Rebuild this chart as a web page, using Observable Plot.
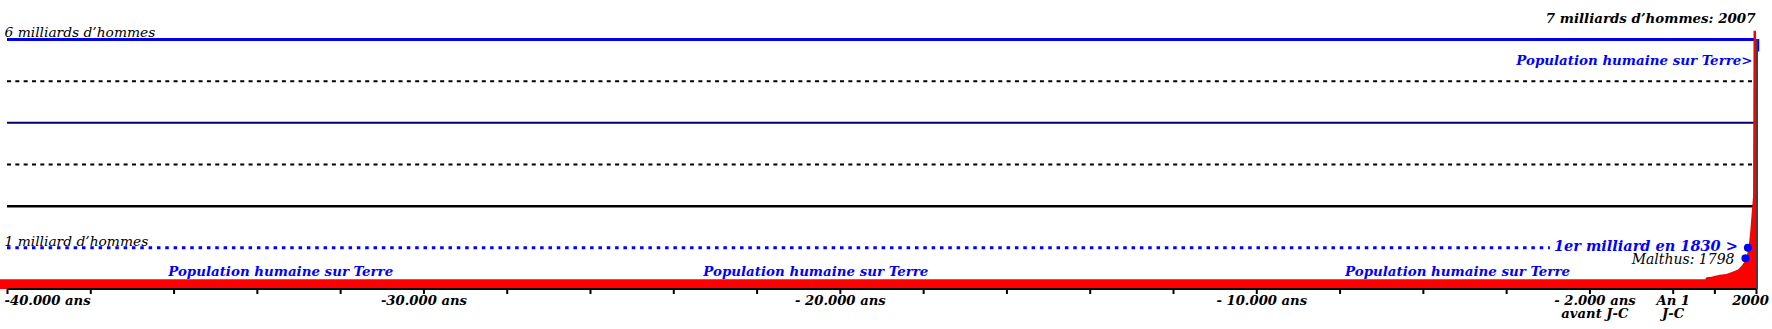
<!DOCTYPE html>
<html><head><meta charset="utf-8">
<script src="https://cdn.jsdelivr.net/npm/d3@7"></script>
<script src="https://cdn.jsdelivr.net/npm/@observablehq/plot@0.6"></script>
<style>
html,body{margin:0;padding:0;background:#fff;}
svg{display:block;}
</style>
</head><body><div id="chart"></div>
<script>
// Population humaine (milliards)
const years = [-40200, 780, 809, 929, 1128, 1289, 1449, 1568, 1649, 1729, 1785, 1833, 1865, 1897, 1929, 1940, 2000];
const population = [0.233, 0.233, 0.28, 0.296, 0.34, 0.36, 0.42, 0.47, 0.55, 0.66, 0.82, 1.1, 1.42, 1.83, 2.22, 6.2, 6.2];

// Points repères
const markerYears = [1793, 1735];
const markerPops = [1.0, 0.75];

// Graduations de l'axe
const tickYears = [-40000, -38000, -36000, -34000, -32000, -30000, -28000, -26000, -24000, -22000, -20000,
  -18000, -16000, -14000, -12000, -10000, -8000, -6000, -4000, -2000, 0, 1000, 2000];
const labelYears = [-40000, -30000, -20000, -10000, -2000, 0, 2000];
const labelTexts = ["-40.000 ans", "-30.000 ans", "- 20.000 ans", "- 10.000 ans", "- 2.000 ans\navant J-C", "An 1\nJ-C", "2000"];

// Bandeaux "Population humaine sur Terre"
const bandYears = [-33440, -20590, -5180];
const bandText = "Population humaine sur Terre";

const data = years.map((y, i) => ({year: y, pop: population[i]}));
const markers = markerYears.map((y, i) => ({year: y, pop: markerPops[i]}));
const labels = labelYears.map((y, i) => ({year: y, text: labelTexts[i]}));

const FONT = "DejaVu Serif";
const BLUE = "#0000ff";
const AX = {x: "year", text: "text", frameAnchor: "bottom", lineAnchor: "top", dy: 6, lineHeight: 1.0, fontSize: 13.2, fontWeight: "bold", fontStyle: "italic", fill: "black"};

const chart = Plot.plot({
  width: 1772, height: 329,
  marginLeft: 7, marginRight: 16, marginTop: 39, marginBottom: 40,
  x: {domain: [-40000, 2000], axis: null},
  y: {domain: [0, 6], axis: null},
  style: {background: "white", fontFamily: FONT, overflow: "visible"},
  marks: [
    // lignes de niveau
    Plot.ruleY([6], {stroke: BLUE, strokeWidth: 3}),
    Plot.ruleY([6], {stroke: "black", strokeWidth: 1}),
    Plot.ruleY([5], {stroke: "black", strokeWidth: 2, strokeDasharray: "4,4.33"}),
    Plot.ruleY([4], {stroke: "#000060", strokeWidth: 2}),
    Plot.ruleY([3], {stroke: "black", strokeWidth: 2, strokeDasharray: "4,4.33"}),
    Plot.ruleY([2], {stroke: "black", strokeWidth: 2.5}),
    Plot.ruleY([1], {x1: -40000, x2: -2950, stroke: BLUE, strokeWidth: 3, strokeDasharray: "3.5,4.83"}),
    // population
    Plot.areaY(data, {x: "year", y: "pop", fill: "#ff0000"}),
    // bordure droite
    Plot.ruleX([2000], {y1: 0, y2: 6, stroke: "black", strokeWidth: 1.5, dx: 0.5}),
    Plot.ruleX([2000], {y1: 6, y2: 5.7, stroke: BLUE, strokeWidth: 1.5, dx: 2}),
    // axe
    Plot.ruleY([0], {stroke: "black", strokeWidth: 2, dy: -0.5}),
    Plot.axisX(tickYears, {anchor: "bottom", tickSize: 5, strokeWidth: 2, stroke: "black", tickFormat: () => "", label: null}),
    Plot.text([labels[0]], {...AX, textAnchor: "start", dx: -3}),
    Plot.text([labels[1], labels[2]], {...AX}),
    Plot.text([labels[3], labels[4]], {...AX, dx: 5}),
    Plot.text([labels[5]], {...AX}),
    Plot.text([labels[6]], {...AX, dx: -6}),
    // annotations
    Plot.text(["7 milliards d\u2019hommes: 2007"], {x: 2000, y: 6, text: d => d, textAnchor: "end", lineAnchor: "bottom", dx: -1, dy: -17, fontSize: 13.4, fontWeight: "bold", fontStyle: "italic", fill: "black"}),
    Plot.text(["6 milliards d\u2019hommes"], {x: -40000, y: 6, text: d => d, textAnchor: "start", lineAnchor: "bottom", dx: -3, dy: -3, fontSize: 13.8, fontStyle: "italic", fill: "black"}),
    Plot.text(["Population humaine sur Terre>"], {x: 2000, y: 6, text: d => d, textAnchor: "end", lineAnchor: "bottom", dx: -4, dy: 25, fontSize: 13.4, fontWeight: "bold", fontStyle: "italic", fill: BLUE}),
    Plot.text(["1 milliard d\u2019hommes"], {x: -40000, y: 1, text: d => d, textAnchor: "start", lineAnchor: "bottom", dx: -3, dy: -2, fontSize: 13.8, fontStyle: "italic", fill: "black"}),
    Plot.text(bandYears, {x: d => d, y: 0, text: () => bandText, textAnchor: "middle", lineAnchor: "bottom", dy: -14, fontSize: 13.4, fontWeight: "bold", fontStyle: "italic", fill: BLUE}),
    Plot.text([markers[0]], {x: "year", y: "pop", text: () => "1er milliard en 1830 >", textAnchor: "end", lineAnchor: "bottom", dx: -10, dy: 3, fontSize: 14.5, fontWeight: "bold", fontStyle: "italic", fill: BLUE}),
    Plot.text([markers[1]], {x: "year", y: "pop", text: () => "Malthus: 1798", textAnchor: "end", lineAnchor: "bottom", dx: -11, dy: 6, fontSize: 14, fontStyle: "italic", fill: "black"}),
    Plot.dot(markers, {x: "year", y: "pop", r: 4, fill: BLUE, stroke: "none"})
  ]
});
document.getElementById("chart").appendChild(chart);
</script>
</body></html>
